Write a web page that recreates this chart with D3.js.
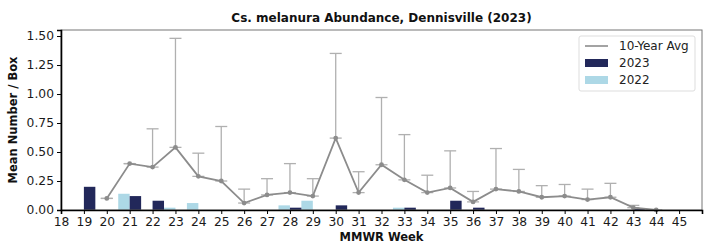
<!DOCTYPE html>
<html><head><meta charset="utf-8">
<script src="https://cdn.jsdelivr.net/npm/d3@7"></script>
<style>body{margin:0;background:#fff}svg{display:block}text{font-family:"DejaVu Sans",sans-serif}</style>
</head><body><svg id="c" width="707" height="245"></svg>
<script>
const title = "Cs. melanura Abundance, Dennisville (2023)";
const xTicks = d3.range(18, 46);
const yTicks = [0, 0.25, 0.5, 0.75, 1.0, 1.25, 1.5];
const weeks2023 = [19, 21, 22, 28, 30, 33, 35, 36, 43];
const values2023 = [0.20, 0.12, 0.08, 0.02, 0.04, 0.02, 0.08, 0.02, 0.01];
const weeks2022 = [21, 23, 24, 28, 29, 33];
const values2022 = [0.14, 0.02, 0.06, 0.04, 0.08, 0.02];
const avgWeeks = [20,21,22,23,24,25,26,27,28,29,30,31,32,33,34,35,36,37,38,39,40,41,42,43,44];
const avgValues = [0.10,0.40,0.37,0.54,0.29,0.25,0.06,0.13,0.15,0.12,0.62,0.15,0.39,0.26,0.15,0.19,0.07,0.18,0.16,0.11,0.12,0.09,0.11,0.02,0.00];
const avgUpper = [0.10,0.40,0.70,1.48,0.49,0.72,0.18,0.27,0.40,0.27,1.35,0.33,0.97,0.65,0.30,0.51,0.16,0.53,0.35,0.21,0.22,0.18,0.23,0.04,0.00];

const svg = d3.select("#c");
const m = {l:61, t:30, r:702, b:210};
const x = d3.scaleLinear().domain([18, 46]).range([m.l, m.r]);
const y = d3.scaleLinear().domain([0, 1.552]).range([m.b, m.t]);
const navy = "#22285a", light = "#add8e6", gray = "#8c8c8c", errc = "#b0b0b0";

// bars
svg.append("g").selectAll("rect").data(weeks2022.map((w,i)=>({w,v:values2022[i]}))).join("rect")
  .attr("x", d=>x(d.w-0.5)).attr("width", d=>x(d.w)-x(d.w-0.5))
  .attr("y", d=>y(d.v)).attr("height", d=>y(0)-y(d.v)).attr("fill", light);
svg.append("g").selectAll("rect").data(weeks2023.map((w,i)=>({w,v:values2023[i]}))).join("rect")
  .attr("x", d=>x(d.w)).attr("width", d=>x(d.w+0.5)-x(d.w))
  .attr("y", d=>y(d.v)).attr("height", d=>y(0)-y(d.v)).attr("fill", navy);

// error bars
const eb = svg.append("g").attr("stroke", errc).attr("stroke-width", 1.3);
avgWeeks.forEach((w,i)=>{
  const cx = x(w);
  eb.append("line").attr("x1",cx).attr("x2",cx).attr("y1",y(avgValues[i])).attr("y2",y(avgUpper[i]));
  eb.append("line").attr("x1",cx-6).attr("x2",cx+6).attr("y1",y(avgUpper[i])).attr("y2",y(avgUpper[i]));
  eb.append("line").attr("x1",cx-6).attr("x2",cx+6).attr("y1",y(avgValues[i])).attr("y2",y(avgValues[i]));
});
// line
const pts = avgWeeks.map((w,i)=>[w, avgValues[i]]);
svg.append("path").datum(pts).attr("fill","none").attr("stroke",gray).attr("stroke-width",1.8)
  .attr("d", d3.line().x(d=>x(d[0])).y(d=>y(d[1])));
svg.append("g").selectAll("circle").data(pts).join("circle")
  .attr("cx",d=>x(d[0])).attr("cy",d=>y(d[1])).attr("r",2.4).attr("fill",gray);

// frame
svg.append("rect").attr("x",m.l).attr("y",m.t).attr("width",m.r-m.l).attr("height",m.b-m.t)
  .attr("fill","none").attr("stroke","#777").attr("stroke-width",1);

// axes
const xa = svg.append("g").attr("transform",`translate(0,${m.b})`)
  .call(d3.axisBottom(x).tickValues(xTicks).tickFormat(d3.format("d")).tickSize(4).tickPadding(3.5));
const ya = svg.append("g").attr("transform",`translate(${m.l},0)`)
  .call(d3.axisLeft(y).tickValues(yTicks).tickFormat(d3.format(".2f")).tickSize(4).tickPadding(3));
[xa, ya].forEach(a=>{
  a.selectAll("text").attr("font-size","12.3px").attr("fill","#1a1a1a").style("font-family","DejaVu Sans");
  a.select(".domain").attr("stroke","#000").attr("stroke-width",1.6);
  a.selectAll(".tick line").attr("stroke","#000");
});

// labels
svg.append("text").attr("x",(m.l+m.r)/2).attr("y",22).attr("text-anchor","middle")
  .attr("font-size","12px").attr("font-weight","bold").attr("fill","#111").text(title);
svg.append("text").attr("x",(m.l+m.r)/2).attr("y",241).attr("text-anchor","middle")
  .attr("font-size","11.5px").attr("font-weight","bold").attr("fill","#111").text("MMWR Week");
svg.append("text").attr("transform",`translate(17,${(m.t+m.b)/2}) rotate(-90)`).attr("text-anchor","middle")
  .attr("font-size","11.5px").attr("font-weight","bold").attr("fill","#111").text("Mean Number / Box");

// legend
const lg = svg.append("g");
lg.append("rect").attr("x",579).attr("y",36).attr("width",116).attr("height",55).attr("rx",2)
  .attr("fill","#fff").attr("stroke","#ddd");
lg.append("line").attr("x1",585).attr("x2",608).attr("y1",46).attr("y2",46).attr("stroke",gray).attr("stroke-width",1.6);
lg.append("rect").attr("x",585).attr("y",59).attr("width",23).attr("height",8).attr("fill",navy);
lg.append("rect").attr("x",585).attr("y",76).attr("width",23).attr("height",8).attr("fill",light);
[["10-Year Avg",46],["2023",63],["2022",80]].forEach(([t,yy])=>{
  lg.append("text").attr("x",619).attr("y",yy).attr("dy","0.35em").attr("font-size","12px").attr("fill","#222").text(t);
});
</script></body></html>
